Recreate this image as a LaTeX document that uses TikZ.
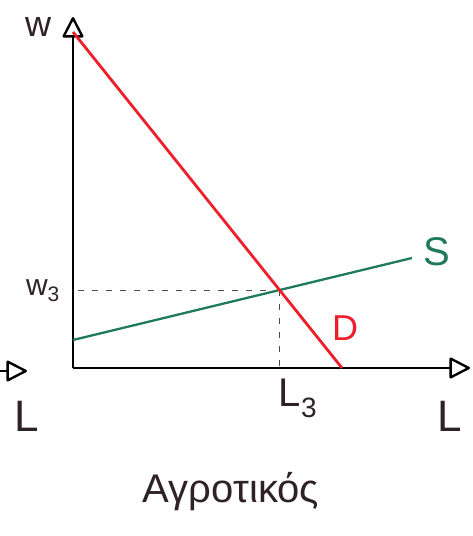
\documentclass[tikz,border=0pt]{standalone}
\usepackage{fontspec}
\setmainfont{Liberation Sans}
\usetikzlibrary{arrows.meta}
\definecolor{ink}{HTML}{2E2226}
\definecolor{dred}{HTML}{EE1F2A}
\definecolor{sgreen}{HTML}{1F7A5C}
\tikzset{
  axis/.style={line width=2.8pt, black, -{Triangle[open,length=22pt,width=22pt,line width=2.4pt,round]}},
  lbl/.style={text=ink, inner sep=0pt},
  demand/.style={line width=2.8pt, dred},
  supply/.style={line width=2.3pt, sgreen},
  guide/.style={line width=1pt, black!70, dash pattern=on 6pt off 8pt},
}
\begin{document}
\begin{tikzpicture}[x=1pt,y=-1pt]
\useasboundingbox (0,0) rectangle (473,536);
\coordinate (O) at (73,368);
\coordinate (ytop) at (73,17);
\coordinate (xend) at (470,368);
\coordinate (dtop) at (73,32);
\coordinate (dbot) at (342,368);
\coordinate (sl) at (73,340);
\coordinate (sr) at (412,258);
\coordinate (E) at (279,290);
\coordinate (Ew) at (78,290);
\coordinate (El) at (279,368);
\coordinate (lstart) at (-5,371);
\coordinate (ltip) at (27,371);
% axes
\draw[axis] (O) -- (ytop);
\draw[axis] (O) -- (xend);
\draw[axis] (lstart) -- (ltip);
% guides
\draw[guide] (Ew) -- (E);
\draw[guide] (E) -- (El);
% curves
\draw[supply] (sl) -- (sr);
\draw[demand] (dtop) -- (dbot);
% labels
\node[lbl, font=\fontsize{36}{36}\selectfont] (w) at (38,27) {w};
\node[lbl, font=\fontsize{30}{30}\selectfont] (w3) at (43,291) {w\textsubscript{3}};
\node[lbl, font=\fontsize{44}{44}\selectfont] (Lleft) at (27,416) {L};
\node[lbl, font=\fontsize{40}{40}\selectfont] (L3) at (298,398) {L\textsubscript{3}};
\node[lbl, font=\fontsize{44}{44}\selectfont] (Lright) at (450,416) {L};
\node[inner sep=0pt, text=dred, font=\fontsize{36}{36}\selectfont] (D) at (345,328) {D};
\node[inner sep=0pt, text=sgreen, font=\fontsize{40}{40}\selectfont] (S) at (437,252) {S};
\node[lbl, font=\fontsize{40}{40}\selectfont] (title) at (231,492) {Αγροτικός};
\end{tikzpicture}
\end{document}
